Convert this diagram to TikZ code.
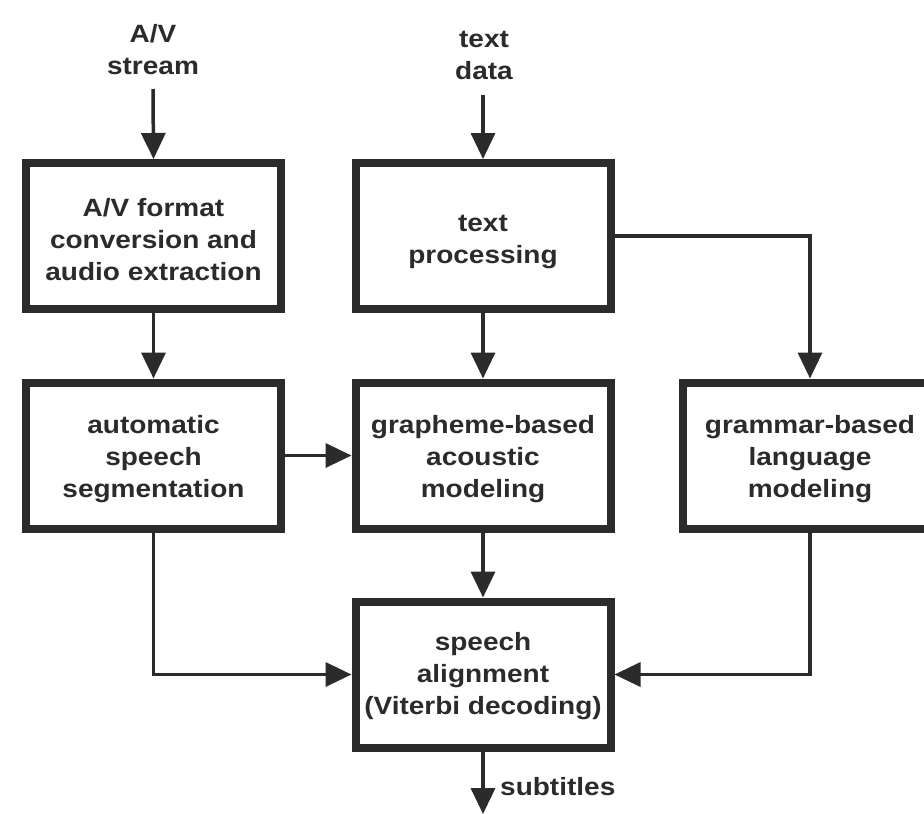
\documentclass[tikz,border=0pt]{standalone}
\usepackage{fontspec}
\setmainfont{Liberation Sans}[FakeStretch=1.12]
\usetikzlibrary{arrows.meta}
\definecolor{ink}{HTML}{2B2B2B}
\tikzset{
  box/.style={draw=ink, line width=8pt, minimum width=255pt, minimum height=146pt, inner sep=0pt},
  boxtext/.style={align=center, text=ink, inner sep=0pt, yshift=-4pt, font=\bfseries\fontsize{25}{32}\selectfont},
  lbl/.style={align=center, text=ink, inner sep=0pt, font=\bfseries\fontsize{25}{32}\selectfont},
  arr/.style={draw=ink, line width=3.5pt, -{Triangle[length=26pt,width=24pt]}}
}
\begin{document}
\begin{tikzpicture}[x=1pt,y=-1pt]
\useasboundingbox (0,0) rectangle (924,814);
\clip (0,0) rectangle (924,814);
\fill[white] (0,0) rectangle (924,814);
\node[box, label={[boxtext]center:A/V format\\conversion and\\audio extraction}] (b1) at (153.5,236) {};
\node[box, label={[boxtext, yshift=-2pt]center:text\\processing}] (b2) at (483,236) {};
\node[box, label={[boxtext]center:automatic\\speech\\segmentation}] (b3) at (153.5,455.5) {};
\node[box, label={[boxtext]center:grapheme-based\\acoustic\\modeling}] (b4) at (483,455.5) {};
\node[box, label={[boxtext]center:grammar-based\\language\\modeling}] (b5) at (810,455.5) {};
\node[box, label={[boxtext, yshift=2pt]center:speech\\alignment\\(Viterbi decoding)}] (b6) at (483,674.5) {};
\node[lbl] (in1) at (153,50) {A/V\\stream};
\node[lbl] (in2) at (484,55) {text\\data};
\coordinate (s1) at (153,89);
\coordinate (s2) at (483,95);
\coordinate (out) at (483,814);
\node[lbl, anchor=base west] (sub) at (500,795) {subtitles};
\draw[arr] (s1) -- (b1.north);
\draw[arr] (s2) -- (b2.north);
\draw[arr] (b1.south) -- (b3.north);
\draw[arr] (b2.south) -- (b4.north);
\draw[arr] (b2.east) -| (b5.north);
\draw[arr] (b3.east) -- (b4.west);
\draw[arr] (b4.south) -- (b6.north);
\draw[arr] (b3.south) |- (b6.west);
\draw[arr] (b5.south) |- (b6.east);
\draw[arr] (b6.south) -- (out);
\end{tikzpicture}
\end{document}
